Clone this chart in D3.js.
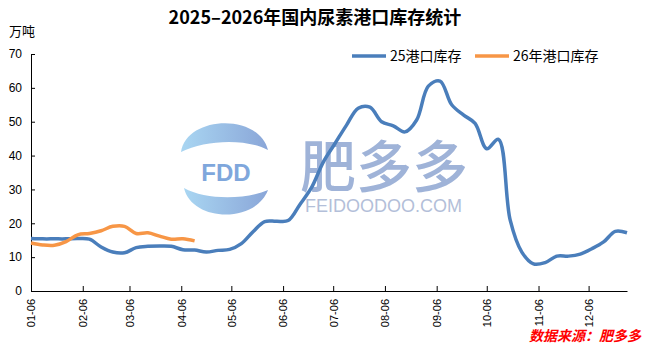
<!DOCTYPE html>
<html>
<head>
<meta charset="utf-8">
<script src="https://cdn.jsdelivr.net/npm/d3@7"></script>
<style>
  html, body { margin: 0; padding: 0; background: #fff; }
  svg { display: block; }
</style>
</head>
<body>
<div id="app"></div>
<script>
;(() => {

    // weekly dates (month-day), same calendar for both years
    const weeks = [
        '01-06','01-13','01-20','01-27','02-03','02-10','02-17','02-24',
        '03-03','03-10','03-17','03-24','03-31','04-07','04-14','04-21','04-28',
        '05-05','05-12','05-19','05-26','06-02','06-09','06-16','06-23','06-30',
        '07-07','07-14','07-21','07-28','08-04','08-11','08-18','08-25',
        '09-01','09-08','09-15','09-22','09-29','10-06','10-13','10-20','10-27',
        '11-03','11-10','11-17','11-24','12-01','12-08','12-15','12-22','12-29'
    ]

    // 25港口库存 (万吨)
    const stock25 = [
        15.5, 15.4, 15.4, 15.4, 15.5, 15.3, 13.0, 11.5, 11.3, 12.8,
        13.2, 13.3, 13.2, 12.2, 12.1, 11.5, 12.0, 12.3, 14.0, 17.5,
        20.5, 20.6, 20.8, 25.5, 30.5, 38.0, 43.5, 49.0, 54.0, 54.3,
        50.0, 48.8, 47.0, 50.5, 60.5, 62.0, 55.0, 52.0, 49.5, 42.0,
        44.8, 21.0, 11.5, 8.0, 8.4, 10.3, 10.3, 10.9, 12.5, 14.5,
        17.6, 17.2
    ]

    // 26年港口库存 (万吨)
    const stock26 = [
        14.2, 13.6, 13.5, 14.6, 16.6, 17.0, 17.8, 19.1, 19.1, 17.0,
        17.2, 16.2, 15.3, 15.4, 14.8
    ]

    const tickLabels = ['01-06','02-06','03-06','04-06','05-06','06-06',
                        '07-06','08-06','09-06','10-06','11-06','12-06']
    const yTicks = [0, 10, 20, 30, 40, 50, 60, 70]

    const title = '2025–2026年国内尿素港口库存统计'
    const unit = '万吨'
    const seriesNames = ['25港口库存', '26年港口库存']
    const source = '数据来源：肥多多'

    const parse = d3.timeParse('%m-%d')
    const width = 652
    const height = 352
    const blue = '#4a7ebb'
    const orange = '#f79646'
    const cjk = '"Noto Sans CJK SC", "Noto Sans", sans-serif'

    const x_scale = d3
        .scaleTime()
        .domain([parse(weeks[0]), parse(weeks[weeks.length - 1])])
        .range([31, 627])

    const y_scale = d3
        .scaleLinear()
        .domain([0, 70])
        .range([291, 54])

    const svg = d3
        .create('svg')
        .attr('viewBox', [0, 0, width, height])
        .attr('width', width)
        .attr('height', height)

    // watermark
    const wm = svg.append('g')
    const defs = svg.append('defs')
    const grad = defs.append('linearGradient')
        .attr('id', 'leaf')
        .attr('x1', 0).attr('y1', 0).attr('x2', 1).attr('y2', 0)
    grad.append('stop').attr('offset', '0%').attr('stop-color', '#a9d6f2')
    grad.append('stop').attr('offset', '100%').attr('stop-color', '#8aa6d8')

    wm.append('path')
        .attr('d', 'M181,152 C186,116 258,112 268,150 C245,138 205,140 181,152 Z')
        .attr('fill', 'url(#leaf)')
    wm.append('path')
        .attr('d', 'M184,188 C205,200 245,200 268,190 C255,224 192,222 184,188 Z')
        .attr('fill', 'url(#leaf)')
    wm.append('text')
        .attr('x', 226).attr('y', 181)
        .attr('text-anchor', 'middle')
        .style('font-family', 'Arial, "Liberation Sans", sans-serif')
        .style('font-weight', 'bold')
        .style('font-size', '24px')
        .attr('fill', '#7fa7dc')
        .text('FDD')
    wm.append('text')
        .attr('x', 300).attr('y', 187)
        .style('font-family', cjk)
        .style('font-weight', '500')
        .style('font-size', '56px')
        .attr('fill', '#9fb3d8')
        .text('肥多多')
    wm.append('text')
        .attr('x', 305).attr('y', 212)
        .style('font-family', '"Liberation Sans", Arial, sans-serif')
        .style('font-size', '18px')
        .attr('fill', '#b3bfd9')
        .text('FEIDOODOO.COM')

    // axes
    const yAxis = svg.append('g')
        .attr('transform', 'translate(31,0)')
        .call(d3.axisLeft(y_scale).tickValues(yTicks).tickSizeInner(-4).tickSizeOuter(0).tickPadding(9))
    yAxis.selectAll('text')
        .style('font-family', '"Liberation Sans", Arial, sans-serif')
        .style('font-size', '12px')
        .attr('fill', '#000')

    const xAxis = svg.append('g')
        .attr('transform', 'translate(0,291)')
        .call(d3.axisBottom(x_scale)
            .tickValues(tickLabels.map(parse))
            .tickFormat(d3.timeFormat('%m-%d'))
            .tickSizeInner(-5).tickSizeOuter(0))
    xAxis.selectAll('text')
        .style('font-family', '"Liberation Sans", Arial, sans-serif')
        .style('font-size', '11px')
        .attr('fill', '#000')
        .attr('text-anchor', 'end')
        .attr('transform', 'rotate(-90)')
        .attr('x', -8)
        .attr('y', 0)
        .attr('dy', '0.35em')

    svg.selectAll('.domain, .tick line').attr('stroke', '#000')

    // lines
    const line = d3.line()
        .x((d, i) => x_scale(parse(weeks[i])))
        .y(d => y_scale(d))
        .curve(d3.curveCatmullRom.alpha(0.5))

    svg.append('path')
        .datum(stock25)
        .attr('d', line)
        .attr('fill', 'none')
        .attr('stroke', blue)
        .attr('stroke-width', 3.5)

    svg.append('path')
        .datum(stock26)
        .attr('d', line)
        .attr('fill', 'none')
        .attr('stroke', orange)
        .attr('stroke-width', 3.5)

    // title, unit
    svg.append('text')
        .attr('x', 315).attr('y', 24)
        .attr('text-anchor', 'middle')
        .style('font-family', cjk)
        .style('font-weight', 'bold')
        .style('font-size', '18px')
        .attr('fill', '#000')
        .text(title)

    svg.append('text')
        .attr('x', 9).attr('y', 36)
        .style('font-family', cjk)
        .style('font-size', '13px')
        .attr('fill', '#000')
        .text(unit)

    // legend
    const legend = svg.append('g')
    const legendItems = [
        { name: seriesNames[0], color: blue, x: 352 },
        { name: seriesNames[1], color: orange, x: 475 }
    ]
    legendItems.forEach(d => {
        legend.append('line')
            .attr('x1', d.x).attr('x2', d.x + 34)
            .attr('y1', 56).attr('y2', 56)
            .attr('stroke', d.color)
            .attr('stroke-width', 3.5)
        legend.append('text')
            .attr('x', d.x + 38).attr('y', 61)
            .style('font-family', cjk)
            .style('font-size', '14px')
            .attr('fill', '#000')
            .text(d.name)
    })

    // source
    svg.append('text')
        .attr('x', 641).attr('y', 341)
        .attr('text-anchor', 'end')
        .style('font-family', cjk)
        .style('font-weight', 'bold')
        .style('font-style', 'italic')
        .style('font-size', '14px')
        .attr('fill', '#ff0000')
        .text(source)

    d3.select('#app').append(() => svg.node())

})()
</script>
</body>
</html>
